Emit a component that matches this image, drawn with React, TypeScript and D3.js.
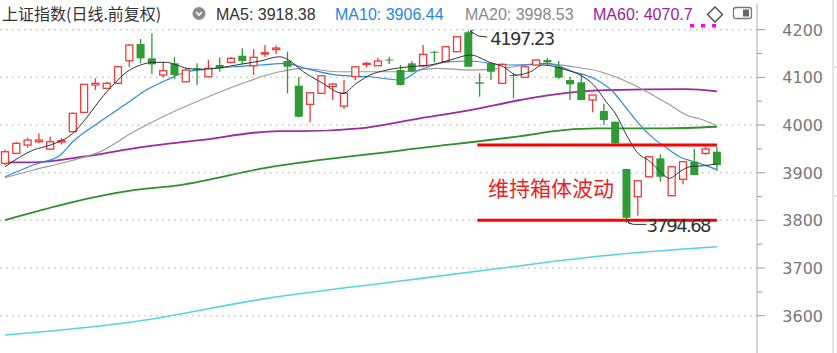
import React from "react";
import * as d3 from "d3";

const W = 837;
const H = 353;

const title = "上证指数(日线.前复权)";
const legendItems = ["MA5: 3918.38", "MA10: 3906.44", "MA20: 3998.53", "MA60: 4070.7"];
const yTicks = [3600, 3700, 3800, 3900, 4000, 4100, 4200];
const yMinorTicks = [3650, 3750, 3850, 3950, 4050, 4150];

const opens = [3919.6, 3940.6, 3958, 3965, 3949.6, 3964.3, 3985.9, 4026.6, 4083.9, 4077, 4087.5, 4134.9, 4169.9, 4139.9, 4104.9, 4129.4, 4090.8, 4119, 4101.3, 4125.9, 4131.5, 4145.4, 4124.4, 4149, 4158.4, 4134.3, 4082.5, 4043.4, 4066.5, 4080.8, 4039.9, 4101.3, 4126.9, 4124.4, 4137.4, 4115.4, 4129.4, 4124.4, 4153.8, 4132.8, 4153.8, 4194.5, 4089.6, 4129.4, 4087.5, 4104.9, 4100.1, 4125.9, 4136.4, 4122.3, 4094.4, 4089.6, 4052.5, 4029.4, 4006.9, 3907.7, 3849.6, 3891.5, 3930.1, 3851.7, 3886.1, 3923, 3940.6, 3944];
const closes = [3944, 3961.6, 3968.5, 3968.5, 3965, 3967.5, 4024.5, 4085.4, 4087.5, 4087.5, 4122.3, 4167.8, 4139.9, 4127.3, 4113.9, 4104.9, 4115.4, 4116.4, 4119, 4119, 4139.9, 4134.3, 4142.2, 4151.7, 4161.5, 4122.3, 4017.4, 4067.8, 4103.4, 4086, 4066.5, 4122.3, 4129.4, 4134.3, 4135.3, 4083.9, 4111.8, 4148.3, 4151.7, 4164.3, 4185.3, 4122.3, 4086.6, 4111.8, 4127.3, 4102.8, 4122.3, 4136.4, 4131.5, 4099.2, 4085.4, 4052.5, 4062.9, 4010.5, 3961.6, 3805.5, 3883.1, 3933.5, 3891.5, 3912.5, 3923, 3895.1, 3949.6, 3916.1];
const highs = [3948.6, 3964.3, 3973.4, 3982.6, 3975.5, 3972.7, 4026.2, 4086, 4098, 4090.8, 4123.8, 4169.9, 4180.4, 4192.4, 4132.8, 4142, 4119.6, 4129.4, 4136.4, 4142, 4142.7, 4160.9, 4159.4, 4167.8, 4166.8, 4153.8, 4101.3, 4068.5, 4104, 4088.1, 4094.4, 4123, 4132.8, 4141.2, 4143.3, 4125.9, 4134.3, 4167.8, 4155.3, 4165, 4186, 4197.23, 4108.5, 4131.5, 4129.4, 4108.5, 4123.8, 4138.5, 4141.2, 4134.3, 4101.3, 4108.5, 4063.5, 4044.1, 4007.5, 3908.5, 3884, 3934.5, 3938.5, 3914.6, 3924.5, 3949.6, 3954.5, 3954.5];
const lows = [3916.1, 3939.2, 3952.4, 3961.6, 3947.5, 3959.1, 3985.3, 4025, 4073.4, 4075.5, 4085.4, 4122.3, 4129.4, 4106.4, 4100.1, 4096.5, 4089.2, 4083.9, 4100, 4111.8, 4129, 4127.3, 4104.9, 4143.3, 4149, 4066.5, 4016, 4005.7, 4065.5, 4052.5, 4033.6, 4094.4, 4121, 4123.8, 4128, 4083, 4110.1, 4122.3, 4131.5, 4131.5, 4153, 4122, 4059.4, 4094.4, 4085.4, 4056, 4098.6, 4123.8, 4125.9, 4097, 4052.5, 4052, 4026.6, 4000, 3961, 3794.68, 3809.7, 3890.5, 3881, 3851, 3875.6, 3894.5, 3937.1, 3903.5];

// moving averages as [candle index, value]
const ma5: [number, number][] = [[0, 3912.5], [2.5, 3947.5], [4, 3958], [6, 3982.6], [7.2, 4014.7], [8.4, 4052.5], [9.7, 4087.5], [10.8, 4111.8], [12, 4125.9], [13.1, 4131.5], [14.3, 4131.5], [15.2, 4125.9], [16.1, 4119], [17.3, 4116.9], [19, 4120.2], [20.8, 4127.3], [22.6, 4134.3], [24.3, 4143.3], [25, 4137.8], [26.4, 4111.8], [27.9, 4090.8], [29.9, 4066.5], [31.1, 4087.5], [32.3, 4104.9], [33.8, 4115.4], [35.8, 4122.3], [37.6, 4125.9], [39.4, 4136.4], [41.2, 4146.9], [42.9, 4131.5], [44.1, 4122.3], [45.3, 4104.9], [46.5, 4111.8], [47.6, 4125.9], [49.7, 4115.4], [50.9, 4104.9], [52.1, 4083.9], [53.2, 4048.9], [54.1, 4021], [55, 3979], [55.9, 3944], [57.1, 3923], [58, 3902], [58.8, 3888.2], [59.7, 3902], [60.6, 3912.5], [61.8, 3914.6], [63, 3918.38]];
const ma10: [number, number][] = [[0, 3891.5], [2.5, 3916.1], [4.9, 3937.1], [6, 3965], [8.4, 4006.9], [10.8, 4045.5], [12.5, 4073.4], [14.3, 4094.4], [16.1, 4111.8], [17.8, 4116.9], [20.2, 4122.3], [22.6, 4125.9], [24.9, 4129.4], [26.4, 4120.2], [29.4, 4104.9], [32.3, 4101.3], [35, 4094.4], [36.7, 4115.4], [39.4, 4132.8], [41.2, 4134.3], [44.1, 4125.9], [47.1, 4127.3], [47.9, 4129.4], [50.3, 4111.8], [52.1, 4098], [53.8, 4069.9], [55, 4035], [56.2, 4000], [57.4, 3972.1], [58.6, 3951.1], [59.7, 3933.5], [61.5, 3919.6], [63, 3906.44]];
const ma20: [number, number][] = [[0, 3889.4], [2.5, 3905.6], [5.5, 3923], [8.4, 3944], [11.4, 3985.9], [14.3, 4021], [17.3, 4052.5], [20.2, 4080.4], [23.2, 4104.9], [24.3, 4111.8], [26.4, 4119], [29.4, 4111.8], [32.3, 4111.8], [35.2, 4111.8], [38.2, 4119], [41.2, 4115.4], [44.1, 4119], [47.3, 4129.4], [50.3, 4122.3], [52.7, 4111.8], [54.7, 4094.4], [56.8, 4069.9], [58.6, 4045.5], [60.3, 4021], [61.8, 4010.5], [63, 3998.53]];
const ma60: [number, number][] = [[0, 3921.7], [2.5, 3921.7], [6.9, 3933.5], [11.4, 3951.1], [17.3, 3968.5], [24.3, 3987.4], [26.4, 3987.4], [31.4, 3993.1], [36.7, 4014.1], [41.2, 4031.5], [45.6, 4052.5], [48.2, 4062.9], [53.2, 4073.4], [60.3, 4075.5], [63, 4070.7]];
const ma120: [number, number][] = [[0, 3800.7], [11.4, 3863.6], [15.5, 3874.1], [23.2, 3910.8], [35.3, 3947.5], [47.3, 3982.6], [48.2, 3986], [52.4, 3993.1], [58.4, 3993.1], [63, 3996.4]];
const ma250: [number, number][] = [[0, 3559.4], [11.4, 3587.3], [23.2, 3636.4], [35, 3672.7], [43.8, 3699.4], [52.7, 3725.2], [63, 3744.7]];

const boxTop = 3958;
const boxBottom = 3800;
const boxStart = 41.8;
const boxLabel = "维持箱体波动";
const highLabel = "4197.23";
const lowLabel = "3794.68";

const RED = "#f23a3a";
const GREEN = "#2f9a36";

export default function App() {
  const n = opens.length;
  const x = d3.scaleLinear().domain([0, n - 1]).range([5, 716.9]);
  const y = d3.scaleLinear().domain([3600, 4200]).range([315.7, 29.7]);
  const line = d3
    .line<[number, number]>()
    .x((d) => x(d[0]))
    .y((d) => y(d[1]))
    .curve(d3.curveMonotoneX);

  const hiIdx = highs.indexOf(d3.max(highs) as number);
  const loIdx = lows.indexOf(d3.min(lows) as number);
  const hx = x(hiIdx), hy = y(highs[hiIdx]);
  const lx = x(loIdx), ly = y(lows[loIdx]);
  const bw = 7;
  const axisX = 757;

  const legendX = [216, 335, 465, 593];
  const legendColors = ["#333", "#1e88e5", "#888", "#a0209a"];

  return (
    <svg
      width={W}
      height={H}
      style={{ position: "absolute", left: 0, top: 0, background: "#fff" }}
      fontFamily="Liberation Sans, Arial, sans-serif"
    >
      <rect width={W} height={H} fill="#fff" />
      {/* grid */}
      {yTicks.map((t) => (
        <line key={"g" + t} x1={0} x2={axisX} y1={y(t)} y2={y(t)} stroke="#c4c4c4" strokeWidth={1.5} strokeDasharray="1.5,4.5" />
      ))}
      {/* MA lines */}
      <path d={line(ma250) || ""} fill="none" stroke="#55d6dd" strokeWidth={1.6} />
      <path d={line(ma120) || ""} fill="none" stroke="#2f8f2f" strokeWidth={1.8} />
      <path d={line(ma60) || ""} fill="none" stroke="#9a2aa0" strokeWidth={1.8} />
      <path d={line(ma20) || ""} fill="none" stroke="#9a9a9a" strokeWidth={1.2} />
      <path d={line(ma10) || ""} fill="none" stroke="#2a8be0" strokeWidth={1.2} />
      {/* candles */}
      {opens.map((o, i) => {
        const c = closes[i];
        const up = c >= o;
        const cx = x(i);
        const top = y(Math.max(o, c));
        const bot = y(Math.min(o, c));
        const hgt = Math.max(bot - top, 1);
        if (up) {
          return (
            <g key={i} stroke={RED} strokeWidth={1.3} fill="#fff">
              <line x1={cx} x2={cx} y1={y(highs[i])} y2={top} />
              <line x1={cx} x2={cx} y1={top + hgt} y2={y(lows[i])} />
              <rect x={cx - bw / 2} y={top} width={bw} height={hgt} />
            </g>
          );
        }
        return (
          <g key={i}>
            <line x1={cx} x2={cx} y1={y(highs[i])} y2={y(lows[i])} stroke={GREEN} strokeWidth={1.3} />
            <rect x={cx - bw / 2 - 0.5} y={top} width={bw + 1} height={hgt} fill={GREEN} />
          </g>
        );
      })}
      <path d={line(ma5) || ""} fill="none" stroke="#333" strokeWidth={1} />
      {/* box lines */}
      <line x1={x(boxStart)} x2={x(n - 1)} y1={y(boxTop)} y2={y(boxTop)} stroke="#f00" strokeWidth={3} />
      <line x1={x(boxStart)} x2={x(n - 1)} y1={y(boxBottom)} y2={y(boxBottom)} stroke="#f00" strokeWidth={3} />
      <text x={488} y={196} fontSize={21} fill="#f01e1e" fontFamily="Noto Sans CJK SC">
        {boxLabel}
      </text>
      {/* high / low markers */}
      <g stroke="#333" strokeWidth={1} fill="none">
        <polyline points={`${hx + 2},${hy} ${hx + 10},${hy + 5} ${hx + 19},${hy + 6}`} />
        <polyline points={`${hx + 5},${hy - 1} ${hx + 2},${hy} ${hx + 4},${hy + 3}`} />
        <polyline points={`${lx + 2},${ly} ${lx + 7},${ly + 1.5} ${lx + 20},${ly + 1.5}`} />
        <polyline points={`${lx + 2},${ly - 3} ${lx + 2},${ly} ${lx + 5},${ly + 1}`} />
      </g>
      <text x={hx + 22} y={hy + 14} fontSize={18} fill="#333" textLength={65} fontFamily="DejaVu Sans">
        {highLabel}
      </text>
      <text x={lx + 20} y={ly + 9.5} fontSize={18} fill="#333" textLength={65} fontFamily="DejaVu Sans">
        {lowLabel}
      </text>
      {/* right axis */}
      <line x1={axisX} x2={axisX} y1={4} y2={H} stroke="#aaa" strokeWidth={1} />
      <line x1={833} x2={833} y1={0} y2={H} stroke="#ccc" strokeWidth={1} />
      <line x1={833} x2={837} y1={67} y2={67} stroke="#ccc" />
      <line x1={833} x2={837} y1={196} y2={196} stroke="#ccc" />
      {yTicks.map((t) => (
        <g key={"t" + t}>
          <line x1={axisX} x2={axisX + 8} y1={y(t)} y2={y(t)} stroke="#999" />
          <text x={823} y={y(t) + 6} textAnchor="end" fontSize={16} fill="#777" fontFamily="DejaVu Sans">
            {t}
          </text>
        </g>
      ))}
      {yMinorTicks.map((t) => (
        <line key={"m" + t} x1={axisX} x2={axisX + 5} y1={y(t)} y2={y(t)} stroke="#999" />
      ))}
      {/* header */}
      <text x={2} y={19.5} fontSize={16} fill="#333" fontFamily="Noto Sans CJK SC">
        {title}
      </text>
      <circle cx={199} cy={13.5} r={6.5} fill="#8a8a8a" />
      <polyline points="196,12 199,15 202,12" fill="none" stroke="#fff" strokeWidth={1.6} />
      {legendItems.map((t, i) => (
        <text key={t} x={legendX[i]} y={19.5} fontSize={16} fill={legendColors[i]}>
          {t}
        </text>
      ))}
      <polygon points="715,7 722.5,14.5 715,22 707.5,14.5" fill="none" stroke="#444" strokeWidth={1.3} />
      <rect x={733.5} y={7.5} width={18} height={11} rx={2.5} fill="none" stroke="#777" strokeWidth={1.3} />
      <rect x={743} y={9.5} width={6} height={7} fill="#666" />
      {[690, 701, 712].map((px) => (
        <rect key={px} x={px} y={24} width={4} height={3.5} fill="#f0f" />
      ))}
    </svg>
  );
}
